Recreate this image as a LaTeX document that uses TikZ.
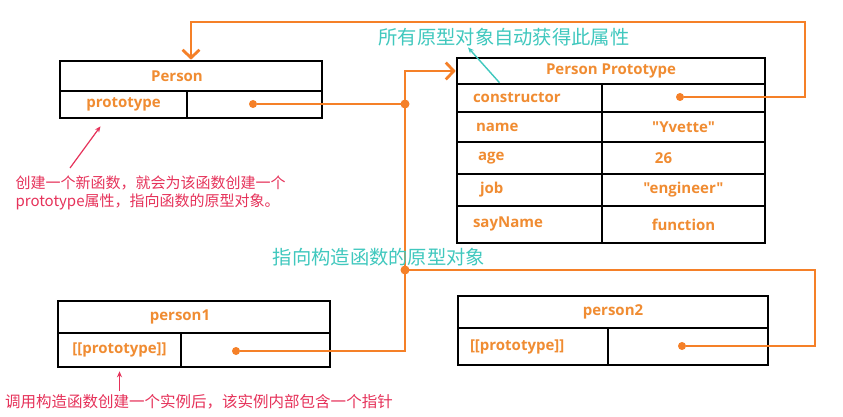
\documentclass[tikz,border=0pt]{standalone}
\usepackage{fontspec}
\setmainfont{Noto Sans CJK SC}
\newfontfamily\labelfont{Open Sans}
\usetikzlibrary{arrows.meta,calc}

\definecolor{linkorange}{RGB}{245,128,40}
\definecolor{labelorange}{RGB}{240,140,50}
\definecolor{hintteal}{RGB}{64,200,190}
\definecolor{notered}{RGB}{230,50,90}

\tikzset{
  cell/.style={draw=black,line width=2.6pt,inner sep=0pt,text=labelorange,
    font=\labelfont\bfseries\fontsize{15}{17}\selectfont},
  keycell/.style={cell,inner xsep=#1,align=left},
  link/.style={draw=linkorange,line width=2.8pt},
  dot/.style={circle,fill=linkorange,inner sep=0pt,minimum size=8pt},
  joint/.style={circle,fill=linkorange,inner sep=0pt,minimum size=9pt},
  barb/.style={-{Straight Barb[length=8pt,width=17pt,line width=2.8pt]}},
  hint/.style={text=hintteal,font=\fontsize{19.3}{21}\selectfont},
  note/.style={text=notered,font=\fontsize{15}{18}\selectfont,align=left},
  notearrow/.style={draw=notered,line width=1.2pt,-{Stealth[length=6pt,width=5pt]}}
}

\begin{document}
\begin{tikzpicture}[x=1pt,y=-1pt]
\path[use as bounding box,fill=white] (0,0) rectangle (843,417);

% Person (constructor function)
\node[cell,minimum width=262pt,minimum height=30pt] (personhead) at (191,76) {\hspace*{-28pt}Person};
\node[cell,minimum width=127pt,minimum height=27pt] (personproto) at (123.5,104.5) {prototype};
\node[cell,minimum width=135pt,minimum height=27pt] (personval) at (254.5,104.5) {};

% Person Prototype
\node[cell,minimum width=308pt,minimum height=26pt] (pphead) at (611,71) {Person Prototype};
\node[keycell=16pt,text width=113pt,minimum height=28pt] (ctor) at (529.5,98) {constructor};
\node[cell,minimum width=163pt,minimum height=28pt] (ctorval) at (683.5,98) {};
\node[keycell=19pt,text width=107pt,minimum height=30pt] (name) at (529.5,127) {name};
\node[cell,minimum width=163pt,minimum height=30pt] (nameval) at (683.5,127) {"Yvette"};
\node[keycell=21pt,text width=103pt,minimum height=32pt] (age) at (529.5,158) {age};
\node[cell,minimum width=163pt,minimum height=32pt] (ageval) at (683.5,158) {\hspace*{-40pt}26};
\node[keycell=23pt,text width=99pt,minimum height=32pt] (job) at (529.5,190) {job};
\node[cell,minimum width=163pt,minimum height=32pt] (jobval) at (683.5,190) {"engineer"};
\node[keycell=16pt,text width=113pt,minimum height=37pt] (sayname) at (529.5,224.5) {\raisebox{4pt}{sayName}};
\node[cell,minimum width=163pt,minimum height=37pt] (saynameval) at (683.5,224.5) {\raisebox{-4pt}{function}};

% person1 / person2 instances
\node[cell,minimum width=272pt,minimum height=32pt] (inst1head) at (194,317) {\hspace*{-28pt}person1};
\node[cell,minimum width=123pt,minimum height=34pt] (inst1proto) at (119.5,350) {[[prototype]]};
\node[cell,minimum width=149pt,minimum height=34pt] (inst1val) at (255.5,350) {};
\node[cell,minimum width=310pt,minimum height=32pt] (inst2head) at (613,312) {person2};
\node[keycell=12pt,text width=126pt,minimum height=37pt] (inst2proto) at (533,346.5) {[[prototype]]};
\node[cell,minimum width=160pt,minimum height=37pt] (inst2val) at (688,346.5) {};

% pointer dots
\node[dot] (persondot) at (253,104) {};
\node[dot] (ctordot) at (680,97) {};
\node[dot] (inst1dot) at (236,351) {};
\node[dot] (inst2dot) at (682,346) {};

% links
\coordinate (trunktop) at (405,71);
\coordinate (ctorturn) at (805,22);
\coordinate (inst2turn) at (815,270);
\draw[link,barb] (inst1dot) -| (trunktop) -- (pphead.west);
\draw[link] (persondot) -- (persondot -| trunktop) node[joint] (personjoint) {};
\draw[link] (inst2dot) -| (inst2turn) -- (inst2turn -| trunktop) node[joint] (inst2joint) {};
\draw[link,barb] (ctordot) -| (ctorturn) -| (personhead.north);

% hints
\node[hint] (ctorhint) at (504,37) {所有原型对象自动获得此属性};
\node[hint] (protohint) at (379,257) {指向构造函数的原型对象};
\draw[draw=hintteal,line width=1.4pt,-{Stealth[length=6pt,width=5pt]}]
  ($(ctor.north)+(-30,0)$) -- ($(ctorhint.south)+(-36,-2)$);

% notes
\node[note,anchor=north west] (protonote) at (12,172)
  {创建一个新函数，就会为该函数创建一个\\prototype属性，指向函数的原型对象。};
\node[note,font=\fontsize{15.5}{18}\selectfont] (instnote) at (199,402)
  {调用构造函数创建一个实例后，该实例内部包含一个指针};
\draw[notearrow] ($(protonote.north west)+(58,-4)$) -- ($(personproto.south)+(-23,7)$);
\draw[notearrow] (instnote.north -| inst1proto.south) -- ($(inst1proto.south)+(0,3)$);

\end{tikzpicture}
\end{document}
